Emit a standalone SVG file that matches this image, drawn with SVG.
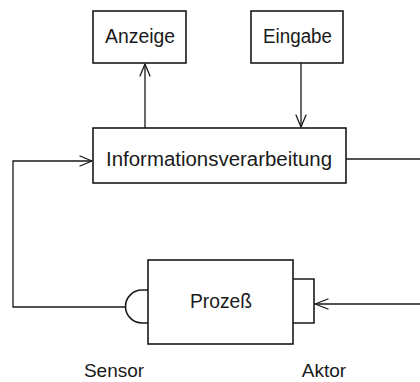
<svg xmlns="http://www.w3.org/2000/svg" width="420" height="382" viewBox="0 0 420 382">
  <style>
    .box { fill: none; stroke: #1a1a1a; stroke-width: 1.6; }
    .line { fill: none; stroke: #1a1a1a; stroke-width: 1.3; }
    .head { fill: none; stroke: #1a1a1a; stroke-width: 1.3; stroke-linecap: round; stroke-linejoin: round; }
    text { font-family: "Liberation Sans", Arial, sans-serif; fill: #1a1a1a; text-anchor: middle; font-size: 20px; }
    .cap { font-size: 19px; }
  </style>
  <rect width="420" height="382" fill="#ffffff"/>

  <g id="anzeige">
    <rect class="box" x="93" y="11" width="93" height="52"/>
    <text x="140" y="43" textLength="70" lengthAdjust="spacingAndGlyphs">Anzeige</text>
  </g>

  <g id="eingabe">
    <rect class="box" x="251" y="11" width="92" height="52"/>
    <text x="297.5" y="43" textLength="69" lengthAdjust="spacingAndGlyphs">Eingabe</text>
  </g>

  <g id="informationsverarbeitung">
    <rect class="box" x="93" y="128" width="253" height="55"/>
    <text x="219" y="166" textLength="226" lengthAdjust="spacingAndGlyphs">Informationsverarbeitung</text>
  </g>

  <g id="prozess">
    <rect class="box" x="148" y="260" width="145" height="84"/>
    <text x="221" y="308" textLength="62" lengthAdjust="spacingAndGlyphs">Prozeß</text>
  </g>

  <g id="sensor">
    <path class="box" d="M148 290 H142 A16.5 16.5 0 0 0 142 323 H148"/>
    <text class="cap" x="114" y="377">Sensor</text>
  </g>

  <g id="aktor">
    <path class="box" d="M293 279 H314 V323 H293"/>
    <text class="cap" x="324" y="377">Aktor</text>
  </g>

  <g id="connectors">
    <!-- Informationsverarbeitung to Anzeige -->
    <line class="line" x1="145" y1="128" x2="145" y2="64"/>
    <path class="head" d="M140 76 L145 64 L150 76"/>
    <!-- Eingabe to Informationsverarbeitung -->
    <line class="line" x1="301" y1="63" x2="301" y2="127"/>
    <path class="head" d="M296 115 L301 127 L306 115"/>
    <!-- Sensor feedback into Informationsverarbeitung -->
    <path class="line" d="M125 307 H13 V161 H92"/>
    <path class="head" d="M80 156 L92 161 L80 166"/>
    <!-- Informationsverarbeitung out to Aktor -->
    <line class="line" x1="346" y1="159" x2="420" y2="159"/>
    <line class="line" x1="420" y1="304" x2="315" y2="304"/>
    <path class="head" d="M328 299 L315 304 L328 309"/>
  </g>
</svg>
